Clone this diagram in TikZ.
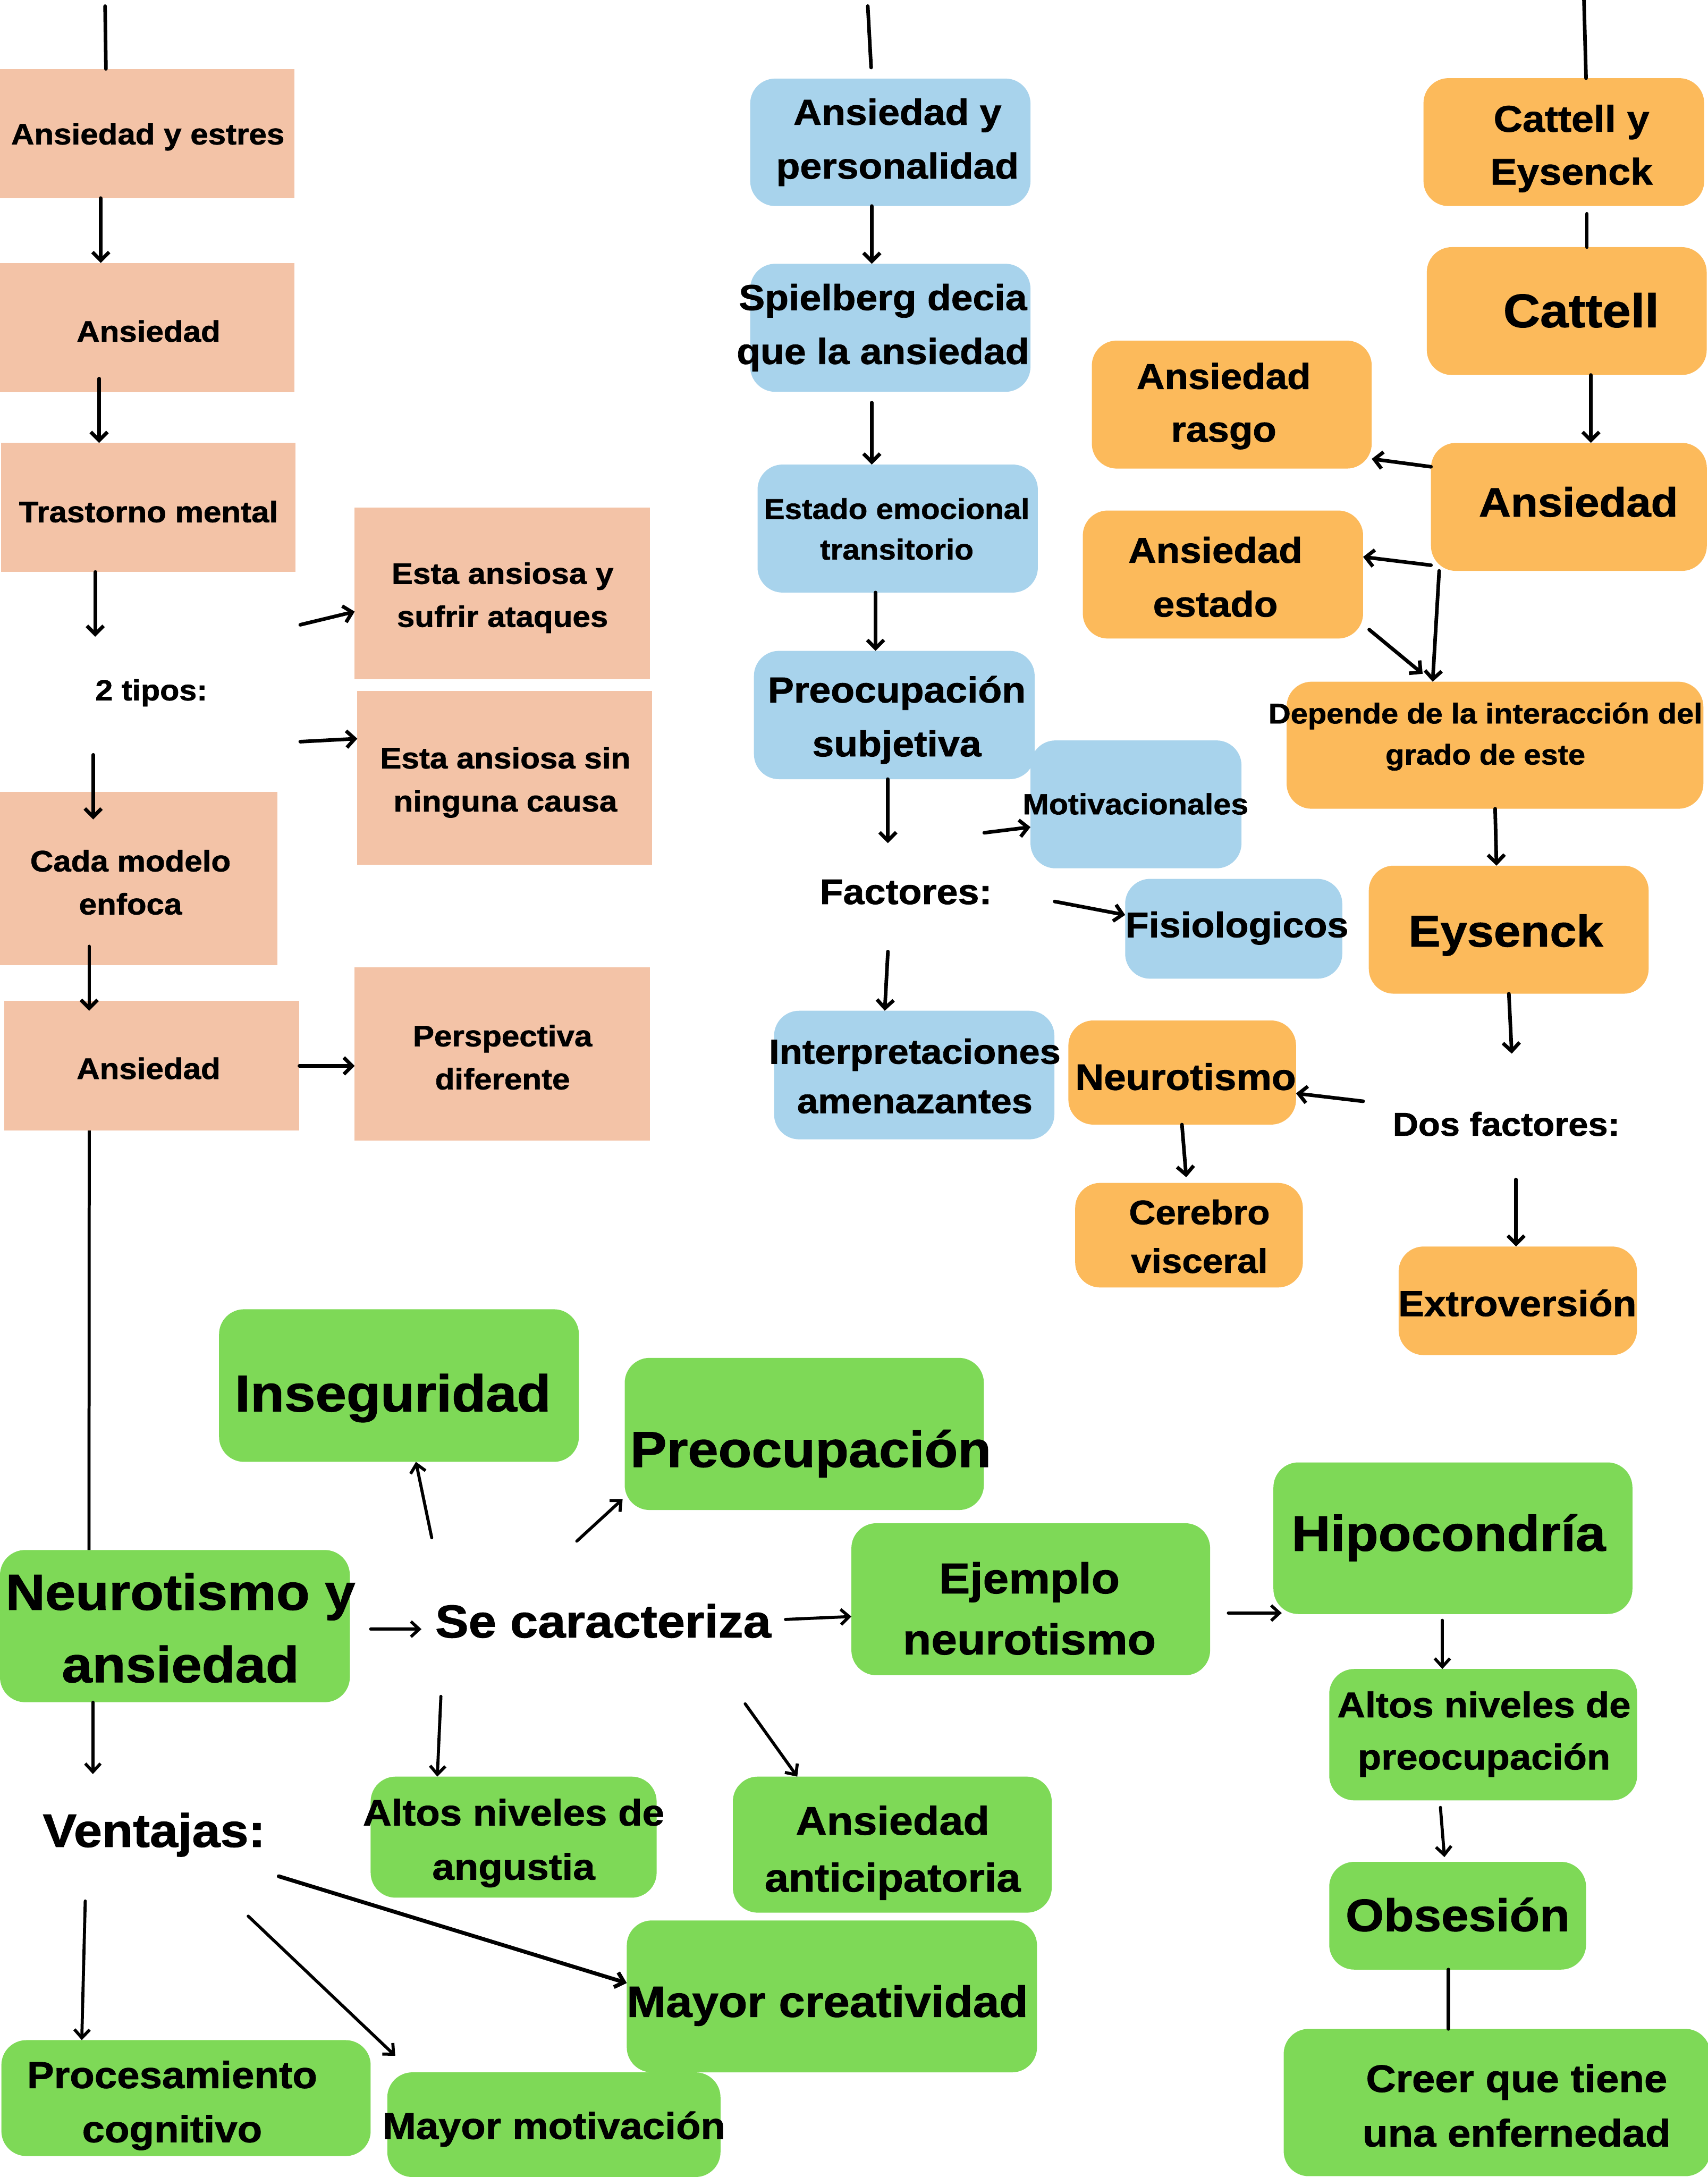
\documentclass[tikz,border=0pt]{standalone}
\usepackage{fontspec}
\setmainfont{Liberation Sans}[FakeStretch=1.08,BoldFeatures={FakeBold=1.2}]
\usetikzlibrary{arrows.meta}
\definecolor{peach}{HTML}{F3C3A7}
\definecolor{skyb}{HTML}{A8D3EC}
\definecolor{orng}{HTML}{FCBA5B}
\definecolor{grn}{HTML}{7ED957}
\newcommand\myfs[2]{\fontsize{#1}{#2}\selectfont\bfseries}
\newcommand\mkbox[6]{%
  \node[#6, minimum width={(#4)-(#2)}, minimum height={(#5)-(#3)}] (#1) at ({((#2)+(#4))/2},{((#3)+(#5))/2}) {};}
\begin{document}
\begin{tikzpicture}[x=1pt,y=-1pt,
  pbox/.style={fill=peach,inner sep=0,outer sep=0},
  bbox/.style={fill=skyb,rounded corners=18pt,inner sep=0,outer sep=0},
  obox/.style={fill=orng,rounded corners=18pt,inner sep=0,outer sep=0},
  gbox/.style={fill=grn,rounded corners=18pt,inner sep=0,outer sep=0},
  lbl/.style={inner sep=0,align=center,yshift=-1.5pt},
  arr/.style={line width=2.6pt,line cap=round,line join=round,-{Straight Barb[length=6pt,width=12pt]}},
  garr/.style={line width=2.2pt,line cap=round,line join=round,-{Straight Barb[length=6pt,width=11pt]}},
  ln/.style={line width=2.6pt,line cap=round}]
\useasboundingbox (0,0) rectangle (1230,1568);
\fill[white] (0,0) rectangle (1230,1568);

% ---------- peach column ----------
\mkbox{pA}{0}{49.6}{212}{142.7}{pbox}
\mkbox{pB}{0}{189.4}{212}{282.5}{pbox}
\mkbox{pC}{0.6}{319}{213}{412}{pbox}
\mkbox{pD}{255.5}{365.5}{468}{489.4}{pbox}
\mkbox{pE}{257.4}{497.5}{469.7}{622.7}{pbox}
\mkbox{pF}{0}{570.5}{200}{695.1}{pbox}
\mkbox{pG}{3}{721}{215.7}{814.3}{pbox}
\mkbox{pH}{255.5}{696.7}{468}{821.6}{pbox}

% ---------- blue column ----------
\mkbox{bA}{540.4}{56.6}{742.3}{148.4}{bbox}
\mkbox{bB}{540.4}{190}{742.3}{282.2}{bbox}
\mkbox{bC}{545.7}{334.6}{747.6}{426.8}{bbox}
\mkbox{bD}{543.1}{468.8}{745.3}{561.2}{bbox}
\mkbox{bE}{742.3}{533.3}{894.3}{625.4}{bbox}
\mkbox{bF}{810.5}{633}{966.9}{704.9}{bbox}
\mkbox{bG}{557.6}{728}{759.5}{820.6}{bbox}

% ---------- orange column ----------
\mkbox{oA}{1025.4}{56.3}{1227.6}{148.4}{obox}
\mkbox{oB}{1027.8}{178}{1229.4}{270.1}{obox}
\mkbox{oC}{1030.8}{319}{1229.5}{411.2}{obox}
\mkbox{oD}{786.5}{245.3}{988.1}{337.5}{obox}
\mkbox{oE}{780}{367.7}{981.9}{459.9}{obox}
\mkbox{oF}{926.8}{491}{1227}{582.5}{obox}
\mkbox{oG}{986}{623.5}{1187.6}{715.7}{obox}
\mkbox{oH}{769.6}{735}{933.6}{810}{obox}
\mkbox{oI}{774.5}{852}{938.5}{927.3}{obox}
\mkbox{oJ}{1007.5}{897.8}{1179.2}{976}{obox}

% ---------- green ----------
\mkbox{gA}{157.8}{943}{417}{1052.9}{gbox}
\mkbox{gB}{450}{978}{708.7}{1087.6}{gbox}
\mkbox{gC}{0}{1116.4}{252}{1226}{gbox}
\mkbox{gD}{613.3}{1097.1}{871.7}{1206.6}{gbox}
\mkbox{gE}{917.3}{1053.3}{1175.9}{1162.5}{gbox}
\mkbox{gF}{957.5}{1202.1}{1179.3}{1296.7}{gbox}
\mkbox{gG}{957.5}{1341}{1142.5}{1418.6}{gbox}
\mkbox{gH}{924.7}{1461.3}{1232}{1567.4}{gbox}
\mkbox{gI}{267}{1279.6}{473}{1366.8}{gbox}
\mkbox{gJ}{527.9}{1279.6}{757.6}{1377.6}{gbox}
\mkbox{gK}{451.5}{1383.2}{747}{1492.6}{gbox}
\mkbox{gL}{1}{1469.4}{267}{1552.9}{gbox}
\mkbox{gM}{279}{1492.6}{519}{1568}{gbox}

% ---------- texts ----------
\node[lbl,font=\myfs{21.3}{31}] (tpA) at (106.5,97) {Ansiedad y estres};
\node[lbl,font=\myfs{21.3}{31}] (tpB) at (107,237) {Ansiedad};
\node[lbl,font=\myfs{21.3}{31}] (tpC) at (107,367) {Trastorno mental};
\node[lbl,font=\myfs{21.3}{31}] (tpD) at (362,429) {Esta ansiosa y\\sufrir ataques};
\node[lbl,font=\myfs{21}{31}] (t2t) at (109,497.5) {2 tipos:};
\node[lbl,font=\myfs{21.3}{31}] (tpE) at (364,562) {Esta ansiosa sin\\ninguna causa};
\node[lbl,font=\myfs{21.3}{31}] (tpF) at (94,634) {Cada modelo\\enfoca};
\node[lbl,font=\myfs{21.3}{31}] (tpG) at (107,768) {Ansiedad};
\node[lbl,font=\myfs{21.3}{31}] (tpH) at (362,760) {Perspectiva\\diferente};

\node[lbl,font=\myfs{26}{38.8}] (tbA) at (646.5,101) {Ansiedad y\\personalidad};
\node[lbl,font=\myfs{26}{38.8}] (tbB) at (636,234.5) {Spielberg decia\\que la ansiedad};
\node[lbl,font=\myfs{20.7}{29.2}] (tbC) at (646,379.5) {Estado emocional\\transitorio};
\node[lbl,font=\myfs{26}{38.8}] (tbD) at (646,517) {Preocupación\\subjetiva};
\node[lbl,font=\myfs{21}{30}] (tbE) at (818,577.5) {Motivacionales};
\node[lbl,font=\myfs{25.5}{36}] (tbF) at (891,667) {Fisiologicos};
\node[lbl,font=\myfs{25.5}{36}] (tfac) at (652.5,641) {Factores:};
\node[lbl,font=\myfs{25}{35.6}] (tbG) at (659,773.5) {Interpretaciones\\amenazantes};

\node[lbl,font=\myfs{26.7}{38.1}] (toA) at (1132,105.5) {Cattell y\\Eysenck};
\node[lbl,font=\myfs{34}{40}] (toB) at (1139,222) {Cattell};
\node[lbl,font=\myfs{29.5}{40}] (toC) at (1137,360) {Ansiedad};
\node[lbl,font=\myfs{25.8}{38.1}] (toD) at (881.5,291) {Ansiedad\\rasgo};
\node[lbl,font=\myfs{25.8}{38.8}] (toE) at (875.5,414) {Ansiedad\\estado};
\node[lbl,font=\myfs{20.5}{29.6}] (toF) at (1070,529) {Depende de la interacción del\\grado de este};
\node[lbl,font=\myfs{32}{40}] (toG) at (1084.7,672) {Eysenck};
\node[lbl,font=\myfs{23.7}{33}] (tdos) at (1085,808) {Dos factores:};
\node[lbl,font=\myfs{26.5}{36}] (toH) at (854,774) {Neurotismo};
\node[lbl,font=\myfs{24.5}{35}] (toI) at (864,889) {Cerebro\\visceral};
\node[lbl,font=\myfs{26}{36}] (toJ) at (1093,937) {Extroversión};

\node[lbl,font=\myfs{37.2}{50}] (tgA) at (283,1005.5) {Inseguridad};
\node[lbl,font=\myfs{36.4}{50}] (tgB) at (584,1045.5) {Preocupación};
\node[lbl,font=\myfs{36.5}{52.2}] (tgC) at (130,1171) {Neurotismo y\\ansiedad};
\node[lbl,font=\myfs{33.3}{45}] (tse) at (434.5,1166) {Se caracteriza};
\node[lbl,font=\myfs{31}{44}] (tgD) at (741.5,1157) {Ejemplo\\neurotismo};
\node[lbl,font=\myfs{35.9}{48}] (tgE) at (1043.5,1106) {Hipocondría};
\node[lbl,font=\myfs{25.7}{37.6}] (tgF) at (1069,1247.5) {Altos niveles de\\preocupación};
\node[lbl,font=\myfs{32.8}{44}] (tgG) at (1050,1377.5) {Obsesión};
\node[lbl,font=\myfs{27.6}{39.3}] (tgH) at (1092.5,1515) {Creer que tiene\\una enfernedad};
\node[lbl,font=\myfs{26.4}{39}] (tgI) at (370,1326) {Altos niveles de\\angustia};
\node[lbl,font=\myfs{28.7}{41}] (tgJ) at (643,1333) {Ansiedad\\anticipatoria};
\node[lbl,font=\myfs{33.8}{45}] (tven) at (111,1320) {Ventajas:};
\node[lbl,font=\myfs{31.5}{44}] (tgK) at (596,1443) {Mayor creatividad};
\node[lbl,font=\myfs{27}{39}] (tgL) at (124,1515) {Procesamiento\\cognitivo};
\node[lbl,font=\myfs{26.9}{38}] (tgM) at (399,1532) {Mayor motivación};

% ---------- connectors: peach ----------
\coordinate (cL0) at (75.7,4.4);
\draw[ln] (cL0) -- (pA.north -| 76.3,0);
\draw[arr] (pA.south -| 72.6,0) -- (pB.north -| 72.6,0);
\coordinate (c3) at (71.4,272.7);
\draw[arr] (c3) -- (pC.north -| 71.4,0);
\coordinate (c4) at (68.6,458.6);
\draw[arr] (pC.south -| 68.6,0) -- (c4);
\coordinate (c5) at (216.3,450);
\draw[arr] (c5) -- (pD.west |- 0,440.5);
\coordinate (c6) at (216.3,534.2);
\draw[arr] (c6) -- (pE.west |- 0,532);
\coordinate (c7a) at (67.1,543.7);
\coordinate (c7b) at (67.1,590.2);
\draw[arr] (c7a) -- (c7b);
\coordinate (c8a) at (64.3,681.7);
\coordinate (c8b) at (64.3,728);
\draw[arr] (c8a) -- (c8b);
\draw[arr] (pG.east |- 0,767.7) -- (pH.west |- 0,767.7);
\draw[line width=2.2pt] (pG.south -| 64.3,0) -- (gC.north -| 64.1,0);

% ---------- connectors: blue ----------
\coordinate (cb1a) at (625.1,4.4);
\coordinate (cb1b) at (627.5,48.6);
\draw[ln] (cb1a) -- (cb1b);
\draw[arr] (bA.south -| 628,0) -- (bB.north -| 628,0);
\coordinate (cb3) at (628,290);
\draw[arr] (cb3) -- (bC.north -| 628,0);
\draw[arr] (bC.south -| 630.7,0) -- (bD.north -| 630.7,0);
\coordinate (cb5) at (639.6,607.3);
\draw[arr] (bD.south -| 639.6,0) -- (cb5);
\coordinate (cb6) at (709,599.8);
\draw[arr] (cb6) -- (bE.west |- 0,595.7);
\coordinate (cb7) at (759.7,649.3);
\draw[arr] (cb7) -- (bF.west |- 0,659);
\coordinate (cb8) at (639.6,685.4);
\draw[arr] (cb8) -- (bG.north -| 637.3,0);

% ---------- connectors: orange ----------
\coordinate (co1) at (1141,0);
\draw[ln] (co1) -- (oA.north -| 1142.5,0);
\coordinate (co2) at (1143.1,154);
\draw[ln] (co2) -- (oB.north -| 1143.1,0);
\draw[arr] (oB.south -| 1146,0) -- (oC.north -| 1146,0);
\draw[arr] (oC.west |- 0,336.2) -- (oD.east |- 0,330.5);
\draw[arr] (oC.west |- 0,407.1) -- (oE.east |- 0,401.1);
\draw[arr] (oC.south -| 1036.7,0) -- (oF.north -| 1032,0);
\coordinate (co7a) at (986.3,453.5);
\coordinate (co7b) at (1024.8,485.3);
\draw[arr] (co7a) -- (co7b);
\draw[arr] (oF.south -| 1077,0) -- (oG.north -| 1078,0);
\coordinate (co9) at (1089,758.9);
\draw[arr] (oG.south -| 1086.9,0) -- (co9);
\coordinate (co10) at (981.9,793.2);
\draw[arr] (co10) -- (oH.east |- 0,787.5);
\coordinate (co11) at (854.5,847.9);
\draw[arr] (oH.south -| 851.4,0) -- (co11);
\coordinate (co12) at (1092.1,849.5);
\draw[arr] (co12) -- (oJ.north -| 1092.1,0);

% ---------- connectors: green ----------
\coordinate (cg1) at (311,1107.6);
\draw[garr] (cg1) -- (gA.south -| 299.6,0);
\coordinate (cg2a) at (415.5,1110);
\coordinate (cg2b) at (448.5,1079.7);
\draw[garr] (cg2a) -- (cg2b);
\coordinate (cg3a) at (267,1173.4);
\coordinate (cg3b) at (303.6,1173.4);
\draw[garr] (cg3a) -- (cg3b);
\coordinate (cg4) at (565.8,1166.4);
\draw[garr] (cg4) -- (gD.west |- 0,1164.3);
\coordinate (cg5) at (66.9,1277.8);
\draw[garr] (gC.south -| 66.9,0) -- (cg5);
\coordinate (cg6) at (317.6,1221.8);
\draw[garr] (cg6) -- (gI.north -| 315,0);
\coordinate (cg7) at (536.8,1227.2);
\draw[garr] (cg7) -- (gJ.north -| 574.3,0);
\coordinate (cg8a) at (884.8,1161.8);
\coordinate (cg8b) at (923.3,1161.8);
\draw[garr] (cg8a) -- (cg8b);
\coordinate (cg9) at (1039,1167);
\draw[garr] (cg9) -- (gF.north -| 1039,0);
\coordinate (cg10a) at (1037.6,1301.8);
\coordinate (cg10b) at (1040.5,1337.6);
\draw[garr] (cg10a) -- (cg10b);
\draw[ln] (gG.south -| 1043.3,0) -- (gH.north -| 1043.3,0);
\coordinate (cg12) at (200.8,1351.4);
\draw[garr,line width=2.8pt] (cg12) -- (gK.west |- 0,1428.3);
\coordinate (cg13a) at (178.8,1380.1);
\coordinate (cg13b) at (284.7,1480.7);
\draw[garr] (cg13a) -- (cg13b);
\coordinate (cg14) at (61.4,1369.2);
\draw[garr] (cg14) -- (gL.north -| 58.9,0);
\end{tikzpicture}
\end{document}
